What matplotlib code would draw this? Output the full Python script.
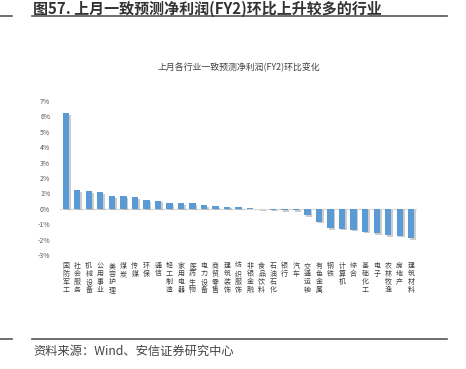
import matplotlib

matplotlib.use("Agg")
import matplotlib.pyplot as plt
import matplotlib.patheffects as pe
import numpy as np

plt.rcParams["font.family"] = ["Noto Sans CJK SC", "DejaVu Sans"]
plt.rcParams["axes.unicode_minus"] = False

industries = [
    "国防军工", "社会服务", "机械设备", "公用事业", "美容护理", "煤炭", "传媒", "环保",
    "通信", "轻工制造", "家用电器", "医药生物", "电力设备", "商贸零售", "建筑装饰",
    "纺织服饰", "非银金融", "食品饮料", "石油石化", "银行", "汽车", "交通运输",
    "有色金属", "钢铁", "计算机", "综合", "基础化工", "电子", "农林牧渔", "房地产",
    "建筑材料",
]
change_pct = [
    6.2, 1.2, 1.13, 1.09, 0.83, 0.83, 0.74, 0.54,
    0.52, 0.35, 0.35, 0.35, 0.22, 0.15, 0.13,
    0.09, 0.04, -0.01, -0.06, -0.08, -0.1, -0.4,
    -0.83, -1.25, -1.3, -1.35, -1.48, -1.6, -1.7, -1.75,
    -1.9,
]
y_ticks = [7, 6, 5, 4, 3, 2, 1, 0, -1, -2, -3]

W, H = 466, 369
fig = plt.figure(figsize=(W / 100, H / 100), dpi=100)

# 页眉标题与分隔线
fig.text(33 / W, 1 - 1 / H, "图57. 上月一致预测净利润(FY2)环比上升较多的行业",
         fontsize=10.8, fontweight="semibold", color="#333333", ha="left", va="top")
for y in (15.5, 339):
    fig.add_artist(plt.Line2D([32 / W, 447 / W], [1 - y / H] * 2, color="#555555", lw=1.2))
    fig.add_artist(plt.Line2D([0, 12 / W], [1 - y / H] * 2, color="#555555", lw=1.2))
fig.text(33 / W, 1 - 351 / H, "资料来源：Wind、安信证券研究中心",
         fontsize=8.8, style="italic", color="#444444", ha="left", va="center")

# 主图
ax = fig.add_axes([60 / W, 1 - 255 / H, 357 / W, 154 / H])
x = np.arange(len(industries))
bars = ax.bar(x, change_pct, width=0.55, color="#5B9BD5", zorder=3)
for b in bars:
    b.set_path_effects([
        pe.SimplePatchShadow(offset=(1.2, -1.2), shadow_rgbFace="#9a9a9a", alpha=0.5),
        pe.Normal(),
    ])
ax.axhline(0, color="#d9d9d9", lw=0.8, zorder=2)

ax.set_xlim(-0.5, len(industries) - 0.5)
ax.set_ylim(-3, 7)
ax.set_yticks(y_ticks)
ax.set_yticklabels([f"{t}%" for t in y_ticks], fontsize=5, color="#595959")
ax.tick_params(axis="y", length=0, pad=7)
ax.set_xticks([])
for s in ax.spines.values():
    s.set_visible(False)

for i, name in enumerate(industries):
    ax.text(i, -3.45, "\n".join(name), ha="center", va="top", fontsize=5,
            color="#404040", linespacing=1.0)

ax.set_title("上月各行业一致预测净利润(FY2)环比变化", fontsize=6.4, color="#404040", pad=22)

fig.savefig("out.png", dpi=100)
